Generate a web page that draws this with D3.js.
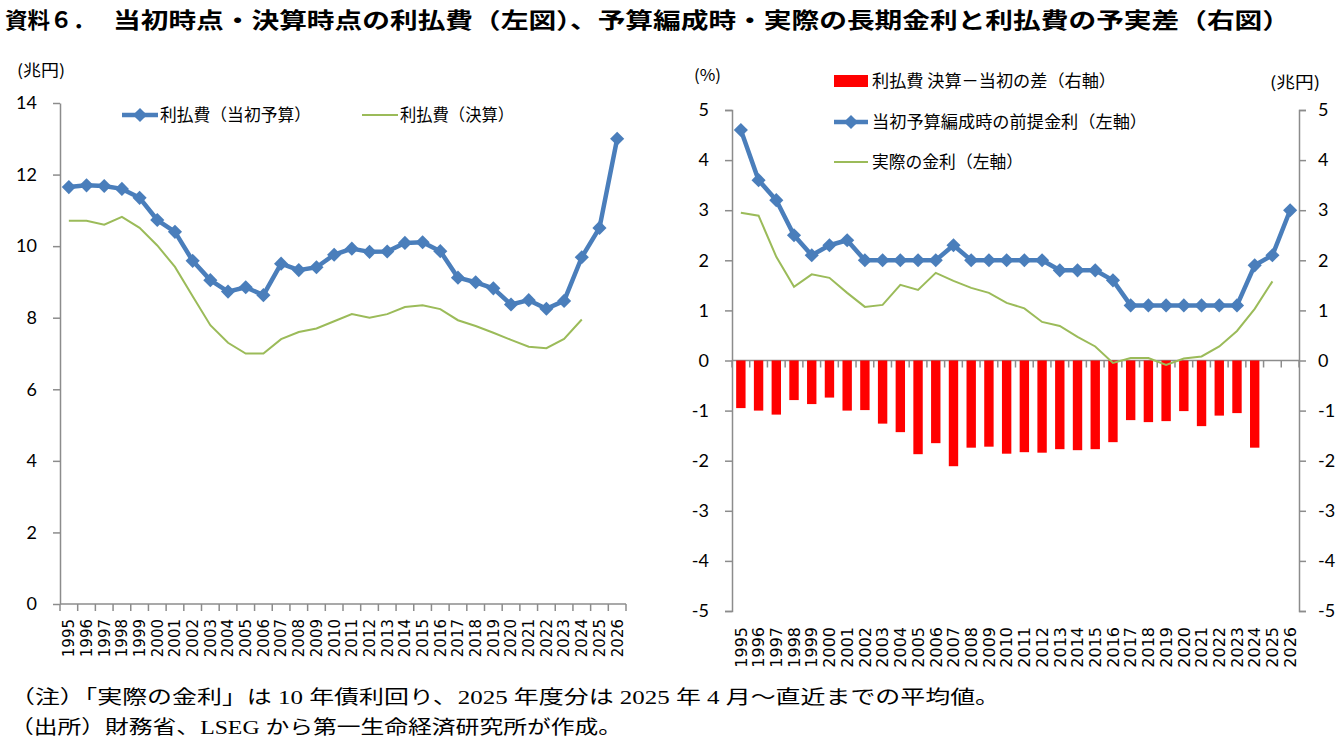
<!DOCTYPE html>
<html>
<head>
<meta charset="utf-8">
<script src="https://cdn.jsdelivr.net/npm/d3@7"></script>
<style>
  body { margin: 0; background: #fff; }
  svg { display: block; }
</style>
</head>
<body>
<div id="chart"></div>
<script>
const years = ['1995','1996','1997','1998','1999','2000','2001','2002','2003','2004','2005','2006','2007','2008','2009','2010',
  '2011','2012','2013','2014','2015','2016','2017','2018','2019','2020','2021','2022','2023','2024','2025','2026'];

// left chart (兆円)
const costBudget = [11.65, 11.7, 11.68, 11.6, 11.35, 10.73, 10.4, 9.59, 9.05, 8.73, 8.85, 8.63, 9.51, 9.33, 9.41, 9.76,
  9.93, 9.84, 9.85, 10.09, 10.11, 9.86, 9.12, 8.99, 8.82, 8.37, 8.49, 8.25, 8.47, 9.69, 10.51, 13.0];
const costSettled = [10.71, 10.71, 10.6, 10.82, 10.51, 10.02, 9.42, 8.6, 7.79, 7.3, 7.0, 7.0, 7.4, 7.6, 7.7, 7.9,
  8.1, 8.0, 8.1, 8.3, 8.35, 8.24, 7.93, 7.77, 7.58, 7.38, 7.19, 7.15, 7.41, 7.95, null, null];

// right chart
const rateAssumed = [4.6, 3.6, 3.2, 2.5, 2.1, 2.3, 2.4, 2.0, 2.0, 2.0, 2.0, 2.0, 2.3, 2.0, 2.0, 2.0,
  2.0, 2.0, 1.8, 1.8, 1.8, 1.6, 1.1, 1.1, 1.1, 1.1, 1.1, 1.1, 1.1, 1.9, 2.1, 3.0];
const rateActual = [2.95, 2.89, 2.07, 1.47, 1.72, 1.65, 1.35, 1.07, 1.11, 1.51, 1.41, 1.75, 1.59, 1.45, 1.35, 1.15,
  1.04, 0.77, 0.69, 0.47, 0.28, -0.05, 0.05, 0.05, -0.09, 0.04, 0.08, 0.28, 0.59, 1.03, 1.58, null];
const costGap = [-0.95, -1.0, -1.08, -0.79, -0.87, -0.74, -1.0, -0.99, -1.26, -1.43, -1.87, -1.65, -2.11, -1.74, -1.72, -1.86,
  -1.83, -1.84, -1.77, -1.79, -1.77, -1.63, -1.19, -1.23, -1.21, -1.01, -1.31, -1.1, -1.05, -1.74, null, null];

const leftTicks = [0, 2, 4, 6, 8, 10, 12, 14];
const rightTicks = [-5, -4, -3, -2, -1, 0, 1, 2, 3, 4, 5];

const BLUE = '#4a7ebb';
const GREEN = '#9bbb59';
const RED = '#ff0000';
const AXIS = '#8c8c8c';
const NUM_FONT = 'Lato, "Open Sans", sans-serif';
const JP_FONT = '"Noto Sans CJK JP", sans-serif';
const YEAR_FONT = '"DejaVu Sans", sans-serif';
const NOTE_FONT = '"Liberation Serif", "Noto Sans CJK JP", serif';

const svg = d3.select('#chart').append('svg')
  .attr('width', 1339)
  .attr('height', 746);

// the source picture is a bit wider than tall, so text gets stretched to its width
function stretchText(parent, x, y, width, size, str, font, weight) {
  return parent.append('text')
    .attr('x', x).attr('y', y)
    .attr('font-family', font || JP_FONT)
    .attr('font-weight', weight || 'normal')
    .attr('font-size', size)
    .attr('textLength', width)
    .attr('lengthAdjust', 'spacingAndGlyphs')
    .text(str);
}

// title
stretchText(svg, 5, 28, 90, 22, '資料６．', JP_FONT, 'bold');
stretchText(svg, 113, 28, 1177, 22, '当初時点・決算時点の利払費（左図）、予算編成時・実際の長期金利と利払費の予実差（右図）', JP_FONT, 'bold');

const diamond = d3.symbol(d3.symbolSquare, 100);

function drawMarkers(g, data, x, y, color) {
  g.selectAll(null)
    .data(data.map((v, i) => [years[i], v]).filter(d => d[1] != null))
    .enter()
    .append('path')
    .attr('d', diamond)
    .attr('fill', color)
    .attr('transform', d => `translate(${x(d[0]) + x.bandwidth() / 2},${y(d[1])}) rotate(45)`);
}

function lineGen(x, y) {
  return d3.line()
    .defined(d => d[1] != null)
    .x(d => x(d[0]) + x.bandwidth() / 2)
    .y(d => y(d[1]));
}

function drawYearLabels(g, x, top, size) {
  g.selectAll(null)
    .data(years)
    .enter()
    .append('text')
    .attr('transform', d => `translate(${x(d) + x.bandwidth() / 2 + size * 0.36},${top}) rotate(-90)`)
    .attr('text-anchor', 'end')
    .attr('font-family', YEAR_FONT)
    .attr('font-size', size)
    .attr('fill', '#000')
    .text(d => d);
}

function drawCategoryTicks(g, x, yPos) {
  const bounds = years.map(d => x(d)).concat([x.range()[1]]);
  g.append('line')
    .attr('x1', x.range()[0]).attr('x2', x.range()[1])
    .attr('y1', yPos).attr('y2', yPos)
    .attr('stroke', AXIS).attr('stroke-width', 1.5);
  g.selectAll(null)
    .data(bounds)
    .enter()
    .append('line')
    .attr('x1', d => d).attr('x2', d => d)
    .attr('y1', yPos).attr('y2', yPos + 7)
    .attr('stroke', AXIS).attr('stroke-width', 1.5);
}

function styleAxis(g) {
  g.select('.domain').attr('stroke', AXIS).attr('stroke-width', 1.5);
  g.selectAll('.tick line').attr('stroke', AXIS).attr('stroke-width', 1.5);
  g.selectAll('.tick text')
    .attr('font-family', NUM_FONT)
    .attr('font-size', 18)
    .attr('fill', '#000');
}

// ---------- left chart ----------
const xL = d3.scaleBand().domain(years).range([60, 626]);
const yL = d3.scaleLinear().domain([0, 14]).range([604, 103]);
const left = svg.append('g');

stretchText(left, 17, 76, 48, 16, '(兆円)');

const axL = left.append('g')
  .attr('transform', 'translate(60,0)')
  .call(d3.axisLeft(yL).tickValues(leftTicks).tickFormat(d => String(d))
    .tickSize(7).tickSizeOuter(0).tickPadding(16));
styleAxis(axL);

drawCategoryTicks(left, xL, yL(0));
drawYearLabels(left, xL, 619, 15);

left.append('path')
  .datum(costSettled.map((v, i) => [years[i], v]))
  .attr('fill', 'none')
  .attr('stroke', GREEN)
  .attr('stroke-width', 2)
  .attr('d', lineGen(xL, yL));

left.append('path')
  .datum(costBudget.map((v, i) => [years[i], v]))
  .attr('fill', 'none')
  .attr('stroke', BLUE)
  .attr('stroke-width', 4.5)
  .attr('stroke-linejoin', 'round')
  .attr('d', lineGen(xL, yL));
drawMarkers(left, costBudget, xL, yL, BLUE);

// legend left
const legL = left.append('g');
legL.append('line').attr('x1', 122).attr('x2', 158).attr('y1', 115).attr('y2', 115)
  .attr('stroke', BLUE).attr('stroke-width', 4.5);
legL.append('path').attr('d', diamond).attr('fill', BLUE).attr('transform', 'translate(140,115) rotate(45)');
stretchText(legL, 160, 121, 151, 16.5, '利払費（当初予算）');
legL.append('line').attr('x1', 362).attr('x2', 398).attr('y1', 115).attr('y2', 115)
  .attr('stroke', GREEN).attr('stroke-width', 2);
stretchText(legL, 400, 121, 114, 16.5, '利払費（決算）');

// ---------- right chart ----------
const xR = d3.scaleBand().domain(years).range([732, 1299]);
const yR = d3.scaleLinear().domain([-5, 5]).range([611, 110]);
const yR2 = d3.scaleLinear().domain([-5, 5]).range([611, 110]);
const right = svg.append('g');

stretchText(right, 694, 81, 27, 16, '(%)');
stretchText(right, 1270, 88, 50, 16, '(兆円)');

const axR1 = right.append('g')
  .attr('transform', 'translate(732,0)')
  .call(d3.axisLeft(yR).tickValues(rightTicks).tickFormat(d => String(d))
    .tickSize(7).tickSizeOuter(7).tickPadding(16));
styleAxis(axR1);
const axR2 = right.append('g')
  .attr('transform', 'translate(1299,0)')
  .call(d3.axisRight(yR2).tickValues(rightTicks).tickFormat(d => String(d))
    .tickSize(7).tickSizeOuter(7).tickPadding(12));
styleAxis(axR2);

drawCategoryTicks(right, xR, yR(0));
drawYearLabels(right, xR, 627, 16);

const barW = xR.bandwidth() * 0.53;
right.selectAll('.bar')
  .data(costGap.map((v, i) => [years[i], v]).filter(d => d[1] != null))
  .enter()
  .append('rect')
  .attr('class', 'bar')
  .attr('x', d => xR(d[0]) + (xR.bandwidth() - barW) / 2)
  .attr('width', barW)
  .attr('y', d => yR2(0))
  .attr('height', d => yR2(d[1]) - yR2(0))
  .attr('fill', RED);

right.append('path')
  .datum(rateActual.map((v, i) => [years[i], v]))
  .attr('fill', 'none')
  .attr('stroke', GREEN)
  .attr('stroke-width', 2)
  .attr('d', lineGen(xR, yR));

right.append('path')
  .datum(rateAssumed.map((v, i) => [years[i], v]))
  .attr('fill', 'none')
  .attr('stroke', BLUE)
  .attr('stroke-width', 4.5)
  .attr('stroke-linejoin', 'round')
  .attr('d', lineGen(xR, yR));
drawMarkers(right, rateAssumed, xR, yR, BLUE);

// legend right
const legR = right.append('g');
legR.append('rect').attr('x', 834).attr('y', 75).attr('width', 34).attr('height', 12).attr('fill', RED);
stretchText(legR, 872, 87, 244, 16.5, '利払費 決算－当初の差（右軸）');
legR.append('line').attr('x1', 834).attr('x2', 868).attr('y1', 122).attr('y2', 122)
  .attr('stroke', BLUE).attr('stroke-width', 4.5);
legR.append('path').attr('d', diamond).attr('fill', BLUE).attr('transform', 'translate(851,122) rotate(45)');
stretchText(legR, 872, 128, 275, 16.5, '当初予算編成時の前提金利（左軸）');
legR.append('line').attr('x1', 834).attr('x2', 868).attr('y1', 162).attr('y2', 162)
  .attr('stroke', GREEN).attr('stroke-width', 2);
stretchText(legR, 872, 168, 151, 16.5, '実際の金利（左軸）');

// ---------- notes ----------
stretchText(svg, 10, 704, 990, 19, '（注）「実際の金利」は 10 年債利回り、2025 年度分は 2025 年 4 月～直近までの平均値。', NOTE_FONT);
stretchText(svg, 10, 734, 612, 19, '（出所）財務省、LSEG から第一生命経済研究所が作成。', NOTE_FONT);
</script>
</body>
</html>
